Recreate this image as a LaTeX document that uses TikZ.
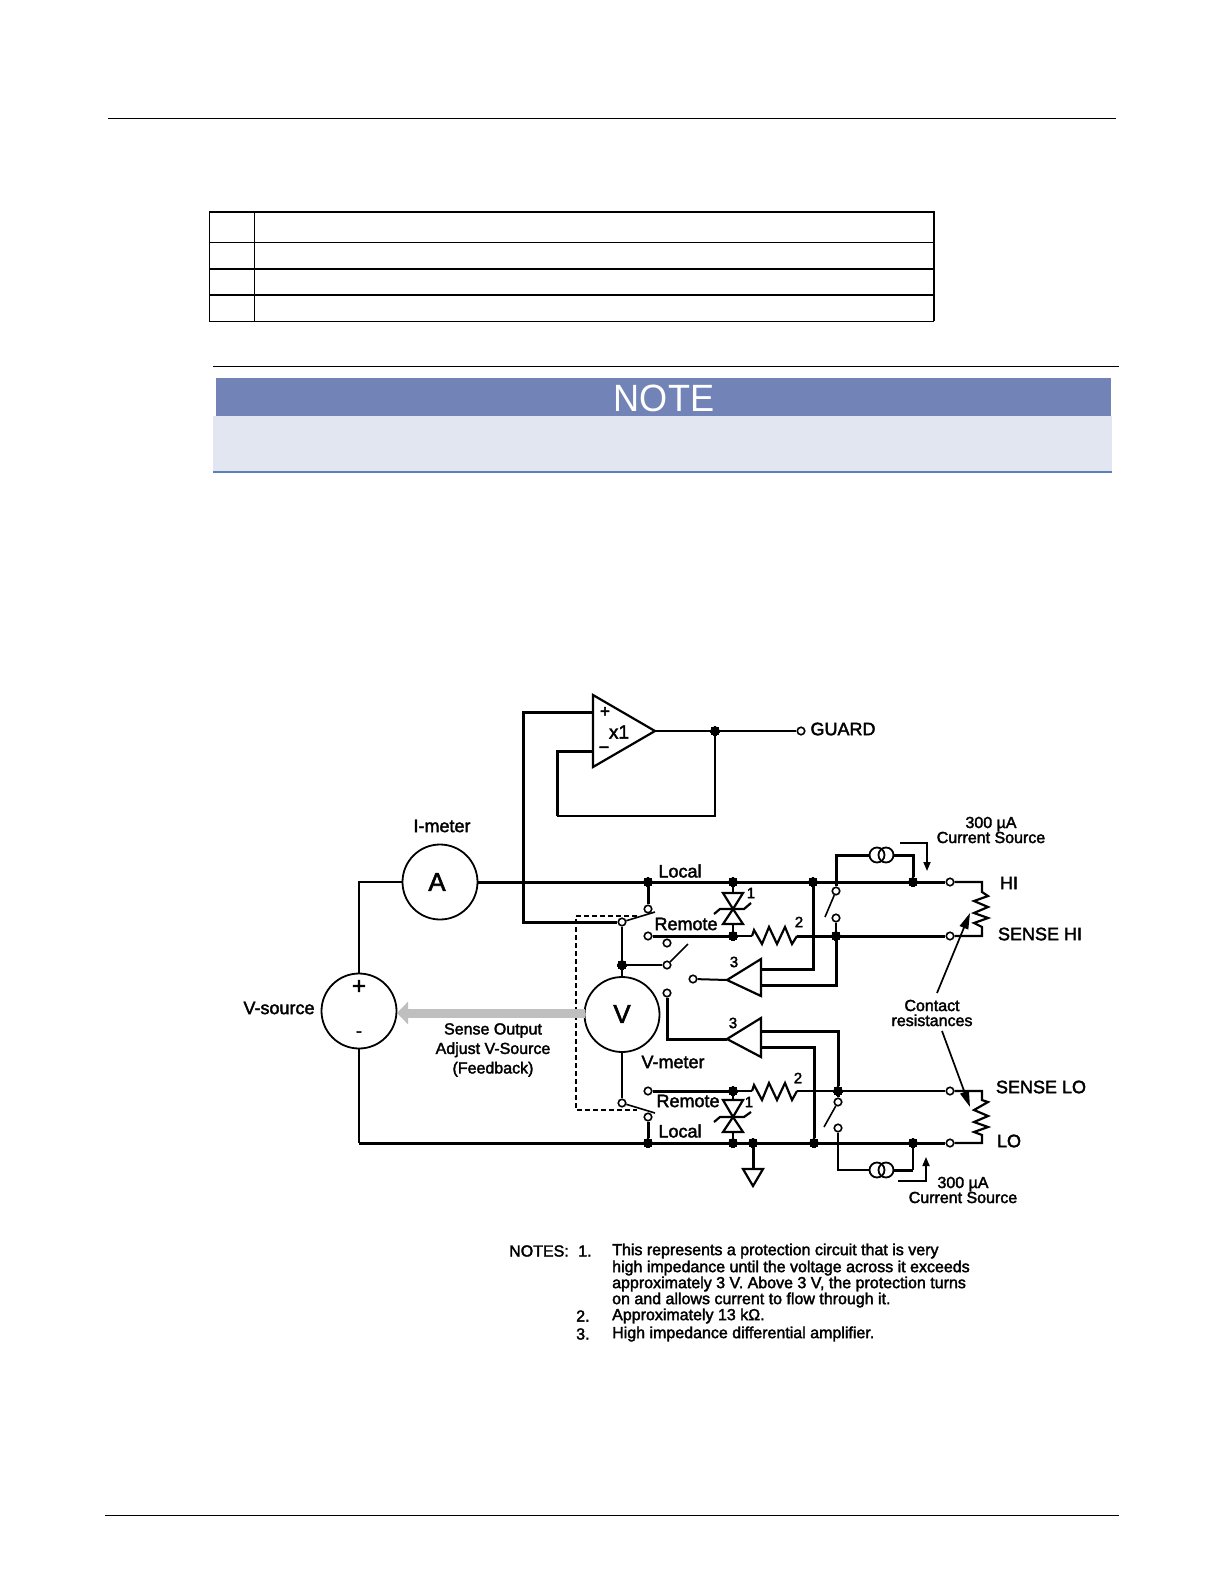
\documentclass[tikz,border=0pt]{standalone}
\usepackage{fontspec}
\setmainfont{Liberation Sans}[BoldFont={Liberation Sans},BoldFeatures={FakeBold=2.2}]
\usetikzlibrary{arrows.meta,calc}
\definecolor{notehead}{HTML}{7183B7}
\definecolor{notebody}{HTML}{E1E6F1}
\definecolor{noterule}{HTML}{5B82B8}
\definecolor{feedback}{HTML}{BFBFBF}
\tikzset{
  wire/.style={line width=2pt,line join=miter},
  bus/.style={line width=3pt,line join=miter},
  blade/.style={line width=1.6pt},
  part/.style={line width=2.2pt,line join=miter},
  dot/.style={circle,fill=black,draw=black,line width=0pt,inner sep=0pt,minimum size=9.5pt},
  term/.style={circle,fill=white,draw=black,line width=1.6pt,inner sep=0pt,minimum size=7.5pt},
  meter/.style={circle,draw=black,fill=white,line width=1.8pt,inner sep=0pt,minimum size=75pt},
  isrc/.style={circle,draw=black,line width=1.8pt,inner sep=0pt,minimum size=15pt},
  lab/.style={inner sep=0pt,font=\bfseries\fontsize{18}{20}\selectfont},
  lbl/.style={inner sep=0pt,font=\bfseries\fontsize{16}{16}\selectfont,align=center},
  num/.style={inner sep=0pt,font=\bfseries\fontsize{15}{15}\selectfont},
  noteline/.style={inner sep=0pt,anchor=west,font=\bfseries\fontsize{16}{16}\selectfont},
  pointer/.style={line width=1.7pt,-{Triangle[length=9pt,width=7pt]}},
  sensearrow/.style={line width=1.7pt,-{Triangle[length=16pt,width=9pt]}},
  tblthick/.style={line width=1.8pt},
  tblthin/.style={line width=1pt}
}
\begin{document}
\begin{tikzpicture}[x=1pt,y=-1pt]
\useasboundingbox (0,0) rectangle (1224,1584);
\fill[white] (0,0) rectangle (1224,1584);
% page rules
\draw[line width=1pt] (108,119) -- (1116,119);
\draw[line width=1.5pt] (105,1515.5) -- (1119,1515.5);
% table
\draw[tblthin] (209,212) -- (209,321);
\draw[tblthin] (254.5,212) -- (254.5,321);
\draw[tblthin] (209,242) -- (934,242);
\draw[tblthick] (209,212) -- (934,212) -- (934,321);
\draw[tblthin] (209,321.5) -- (934,321.5);
\draw[tblthick] (209,269) -- (934,269);
\draw[tblthick] (209,295) -- (934,295);
% note box
\draw[line width=1pt] (213,366) -- (1119,366);
\fill[notebody] (213,416) rectangle (1112,471);
\fill[notehead] (216,378) rectangle (1111,416);
\draw[noterule,line width=1.6pt] (213,472) -- (1112,472);
\node[inner sep=0pt,text=white,font=\fontsize{38}{38}\selectfont,xscale=0.95] (notetitle) at (664,398) {NOTE};

% ---------- terminals and junctions
\node[dot] (dGuard) at (715,731) {};
\node[term] (tGuard) at (801,731) {};
\node[dot] (dHiA) at (648,882) {};
\node[dot] (dHiB) at (733,882) {};
\node[dot] (dHiC) at (813,882) {};
\node[dot] (dHiD) at (913,882) {};
\node[term] (tHi) at (950,882) {};
\node[term] (tLocalU) at (648,909) {};
\node[term] (tPoleU) at (622,922) {};
\node[term] (tRemoteU) at (648,936) {};
\node[dot] (dSenseHiA) at (733,936) {};
\node[dot] (dSenseHiB) at (836,936) {};
\node[term] (tSenseHi) at (950,936) {};
\node[term] (tSwA1) at (836,891) {};
\node[term] (tSwA2) at (836,918) {};
\node[term] (tSwB1) at (667,943) {};
\node[term] (tSwB2) at (667,965) {};
\node[dot] (dV) at (622,965) {};
\node[term] (tAmpU) at (693,979) {};
\node[term] (tAmpL) at (667,993) {};
\node[term] (tRemoteL) at (648,1091) {};
\node[dot] (dSenseLoA) at (733,1091) {};
\node[dot] (dSenseLoB) at (838,1091) {};
\node[term] (tSenseLo) at (950,1091) {};
\node[term] (tSwC1) at (838,1102) {};
\node[term] (tSwC2) at (838,1128) {};
\node[term] (tPoleL) at (622,1103) {};
\node[term] (tLocalL) at (648,1117) {};
\node[dot] (dLoA) at (648,1143) {};
\node[dot] (dLoB) at (733,1143) {};
\node[dot] (dLoC) at (753,1143) {};
\node[dot] (dLoD) at (814,1143) {};
\node[dot] (dLoE) at (913,1143) {};
\node[term] (tLo) at (950,1143) {};

% ---------- instruments
\node[meter] (mA) at (440,882) {};
\node[meter] (mS) at (359,1011) {};
\node[meter] (mV) at (622,1014.5) {};
\node[inner sep=0pt,font=\bfseries\fontsize{26}{26}\selectfont] (mAt) at (437,882) {A};
\node[inner sep=0pt,font=\bfseries\fontsize{26}{26}\selectfont] (mVt) at (622,1014) {V};
\node[inner sep=0pt,font=\bfseries\fontsize{24}{24}\selectfont] (mSp) at (359,987) {+};
\node[inner sep=0pt,font=\bfseries\fontsize{18}{18}\selectfont] (mSm) at (359,1034) {-};

% ---------- guard amplifier
\coordinate (ampTop) at (593,695);
\coordinate (ampBot) at (593,767);
\coordinate (ampTip) at (655,731);
\coordinate (ampP) at (593,712);
\coordinate (ampN) at (593,751);
\draw[part,fill=white] (ampTop) -- (ampTip) -- (ampBot) -- cycle;
\node[inner sep=0pt,font=\bfseries\fontsize{17}{17}\selectfont] (ampPt) at (605,712) {+};
\node[inner sep=0pt,font=\bfseries\fontsize{18}{18}\selectfont] (ampMt) at (604,750) {\textminus};
\node[inner sep=0pt,font=\bfseries\fontsize{19}{19}\selectfont] (ampX) at (619,732) {x1};
\coordinate (cGuardL) at (523,712);
\coordinate (cGuardB) at (523,922);
\draw[bus] (ampP) -- (cGuardL) -- (cGuardB) -- (tPoleU);
\draw[wire] (ampTip) -- (dGuard) -- (tGuard);
\coordinate (cFbA) at (557,751);
\coordinate (cFbB) at (557,816);
\draw[bus] (ampN) -- (cFbA) -- (cFbB);
\draw[wire] (cFbB) -- (cFbB -| dGuard) -- (dGuard);

% ---------- main buses
\draw[wire] (mS.north) -- (mS.north |- mA) -- (mA.west);
\draw[bus] (mA.east) -- (dHiA) -- (dHiB) -- (dHiC) -- (dHiD) -- (tHi);
\draw[wire] (mS.south) -- (mS.south |- dLoA);
\draw[bus] (mS.south |- dLoA) -- (dLoA) -- (dLoB) -- (dLoC) -- (dLoD) -- (dLoE) -- (tLo);
\draw[bus] (tRemoteU) -- (dSenseHiA);
\draw[wire] (dSenseHiA) -- (752,936);
\draw[bus] (797,936) -- (dSenseHiB) -- (tSenseHi);
\draw[bus] (tRemoteL) -- (dSenseLoA);
\draw[wire] (dSenseLoA) -- (752,1091);
\draw[wire] (797,1091) -- (dSenseLoB) -- (tSenseLo);

% ---------- local / remote switches
\draw[bus] (dHiA) -- (tLocalU);
\draw[blade] (tPoleU) -- (655,912);
\draw[wire] (tPoleU) -- (dV) -- (mV.north);
\draw[wire] (dV) -- (tSwB2);
\draw[blade] (tSwB2) -- (688,944);
\draw[wire] (mV.south) -- (tPoleL);
\draw[blade] (tPoleL) -- (655,1113);
\draw[bus] (tLocalL) -- (dLoA);
\draw[line width=2pt,dash pattern=on 5pt off 3pt] (637,916) -- (576,916) -- (576,1110) -- (637,1110);

% ---------- protection circuits
\draw[part] (dHiB) -- (733,893);
\draw[part] (723,893) -- (743,893) -- (733,909) -- cycle;
\draw[part] (723,924) -- (743,924) -- (733,909) -- cycle;
\draw[part] (733,924) -- (dSenseHiA);
\draw[part] (714,914) -- (720,909) -- (744,909) -- (751,903);
\draw[part] (dSenseLoA) -- (733,1100);
\draw[part] (723,1100) -- (743,1100) -- (733,1117) -- cycle;
\draw[part] (723,1132) -- (743,1132) -- (733,1117) -- cycle;
\draw[part] (733,1132) -- (dLoB);
\draw[part] (714,1122) -- (720,1117) -- (744,1117) -- (751,1112);

% ---------- series resistors
\draw[part] (752,936) -- (754,930) -- (762,944) -- (769,927) -- (777,944) -- (785,927) -- (792,944) -- (797,936);
\draw[part] (752,1091) -- (754,1085) -- (762,1100) -- (769,1083) -- (777,1100) -- (785,1083) -- (792,1100) -- (797,1091);

% ---------- sense amplifiers
\coordinate (auTip) at (727,980);
\coordinate (auA) at (761,959);
\coordinate (auB) at (761,996);
\draw[part] (auTip) -- (auA) -- (auB) -- cycle;
\draw[wire] (tAmpU) -- (auTip);
\draw[bus] (761,969) -- (813,969) -- (dHiC);
\draw[bus] (761,985) -- (836,985) -- (dSenseHiB);
\coordinate (alTip) at (727,1039);
\coordinate (alA) at (761,1018);
\coordinate (alB) at (761,1057);
\draw[part] (alTip) -- (alA) -- (alB) -- cycle;
\draw[bus] (tAmpL) -- (667,1039) -- (alTip);
\draw[bus] (761,1031) -- (838,1031) -- (dSenseLoB);
\draw[bus] (761,1047) -- (814,1047) -- (dLoD);

% ---------- sense switches and current sources
\node[isrc] (iUa) at (877,855) {};
\node[isrc] (iUb) at (886,855) {};
\node[isrc] (iLa) at (877,1170) {};
\node[isrc] (iLb) at (886,1170) {};
\draw[bus] (836,882) -- (tSwA1);
\draw[bus] (iUa.west) -- (836,855) -- (836,882);
\draw[bus] (iUb.east) -- (913,855) -- (dHiD);
\draw[blade] (tSwA1) -- (825,917);
\draw[wire] (tSwA2) -- (dSenseHiB);
\draw[bus] (dSenseLoB) -- (tSwC1);
\draw[blade] (tSwC1) -- (824,1127);
\draw[wire] (tSwC2) -- (838,1170) -- (iLa.west);
\draw[bus] (iLb.east) -- (913,1170);
\draw[wire] (913,1170) -- (dLoE);

% ---------- ground
\coordinate (gnd) at (753,1169);
\draw[bus] (dLoC) -- (gnd);
\draw[part] (743,1169) -- (763,1169) -- (753,1186) -- cycle;

% ---------- contact resistances
\draw[part] (tHi) -- (982,882) -- (982,892) -- (988,896) -- (974,901) -- (988,907) -- (974,913) -- (988,918) -- (974,923) -- (982,927) -- (982,936) -- (tSenseHi);
\draw[part] (tSenseLo) -- (982,1091) -- (982,1100) -- (988,1102) -- (974,1110) -- (988,1116) -- (974,1122) -- (988,1127) -- (974,1132) -- (982,1135) -- (982,1143) -- (tLo);

% ---------- arrows
\coordinate (curUa) at (900,843);
\coordinate (curUb) at (927,843);
\coordinate (curUc) at (927,871);
\draw[pointer] (curUa) -- (curUb) -- (curUc);
\coordinate (curLa) at (898,1181);
\coordinate (curLb) at (926,1181);
\coordinate (curLc) at (926,1157);
\draw[pointer] (curLa) -- (curLb) -- (curLc);
\coordinate (contactA) at (937,993);
\coordinate (contactB) at (970,913);
\draw[sensearrow] (contactA) -- (contactB);
\coordinate (contactC) at (942,1031);
\coordinate (contactD) at (970,1107);
\draw[sensearrow] (contactC) -- (contactD);
\coordinate (fbTail) at (585,1013);
\coordinate (fbTip) at (397,1013);
\draw[feedback,line width=9pt,-{Triangle[length=11pt,width=22pt]}] (fbTail) -- (fbTip);

% ---------- labels
\node[lab] (lGuard) at (843,729) {GUARD};
\node[lab] (lImeter) at (442,826) {I-meter};
\node[lab] (lVsource) at (279,1008) {V-source};
\node[lab] (lVmeter) at (673,1062) {V-meter};
\node[lab] (lLocalU) at (680,871) {Local};
\node[lab] (lLocalL) at (680,1131) {Local};
\node[lab] (lRemoteU) at (686,924) {Remote};
\node[lab] (lRemoteL) at (688,1101) {Remote};
\node[lab] (lHi) at (1009,883) {HI};
\node[lab] (lSenseHi) at (1040,934) {SENSE HI};
\node[lab] (lSenseLo) at (1041,1087) {SENSE LO};
\node[lab] (lLo) at (1009,1141) {LO};
\node[num] (nA) at (751,893) {1};
\node[num] (nB) at (799,922) {2};
\node[num] (nC) at (734,962) {3};
\node[num] (nD) at (733,1023) {3};
\node[num] (nE) at (749,1102) {1};
\node[num] (nF) at (798,1078) {2};
\node[lbl] (lCurU) at (991,830) {300 µA\\[-1pt]Current Source};
\node[lbl] (lCurL) at (963,1190) {300 µA\\[-1pt]Current Source};
\node[lbl] (lContact) at (932,1013) {Contact\\[-1pt]resistances};
\node[lbl,font=\bfseries\fontsize{16}{19.5}\selectfont] (lSense) at (493,1050) {Sense Output\\Adjust V-Source\\(Feedback)};

% ---------- notes
\node[noteline] (nt0) at (509,1251) {NOTES:};
\node[noteline] (nn1) at (578,1251) {1.};
\node[noteline] (nt1) at (612,1251) {This represents a protection circuit that is very};
\node[noteline] (nt2) at (612,1268) {high impedance until the voltage across it exceeds};
\node[noteline] (nt3) at (612,1284) {approximately 3 V. Above 3 V, the protection turns};
\node[noteline] (nt4) at (612,1300) {on and allows current to flow through it.};
\node[noteline] (nn2) at (576,1316) {2.};
\node[noteline] (nt5) at (612,1316) {Approximately 13 kΩ.};
\node[noteline] (nn3) at (576,1334) {3.};
\node[noteline] (nt6) at (612,1334) {High impedance differential amplifier.};
\end{tikzpicture}
\end{document}
